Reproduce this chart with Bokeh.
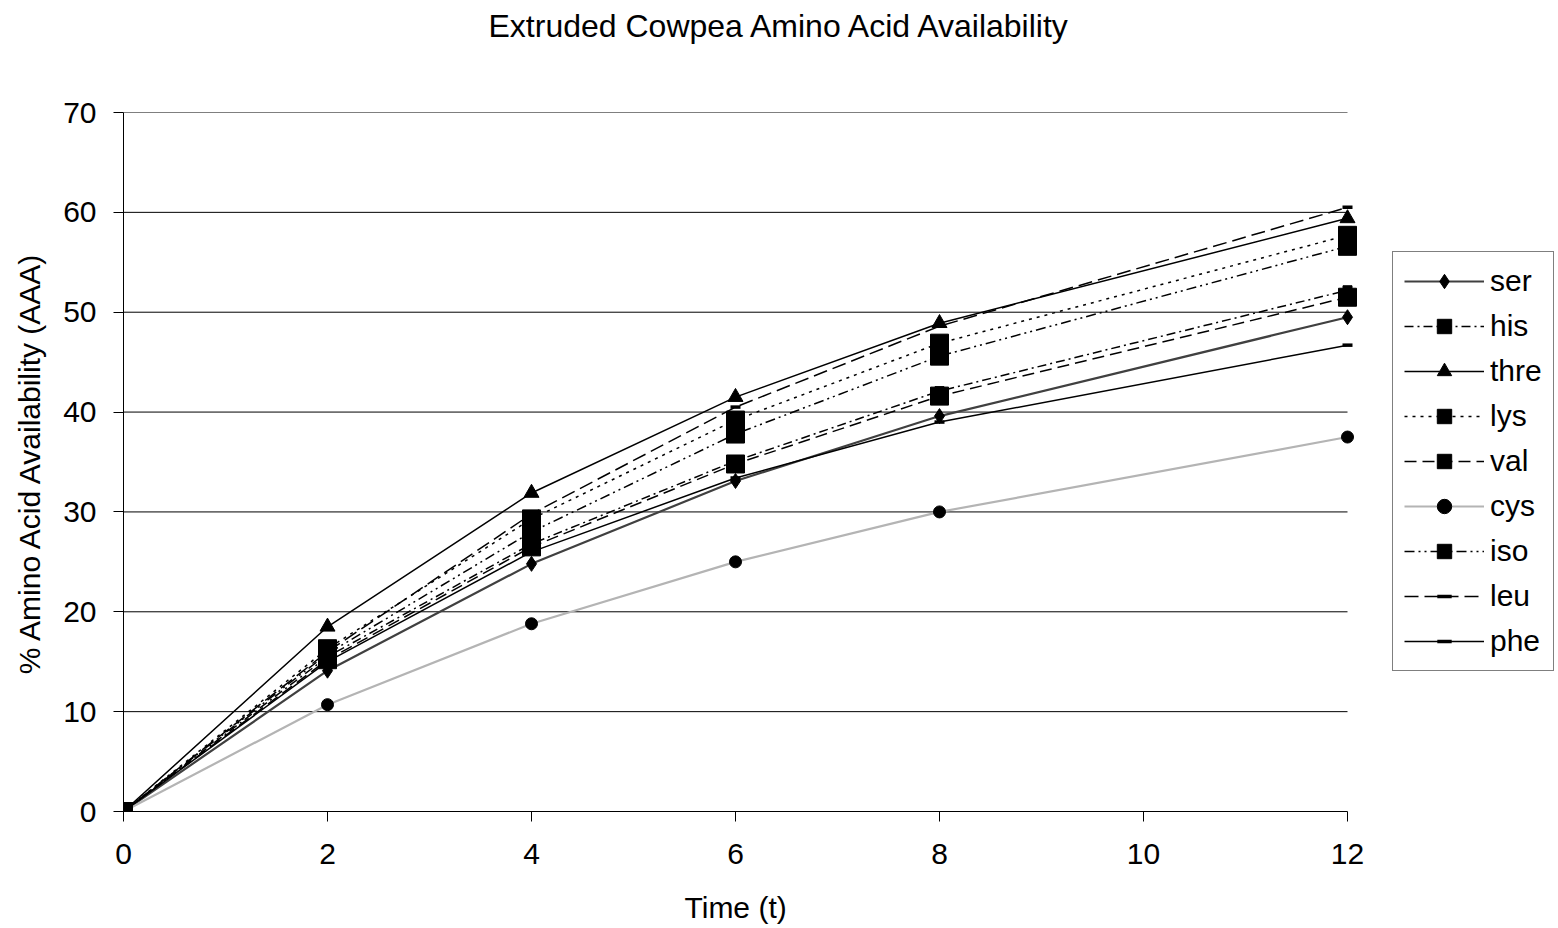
from bokeh.plotting import figure
from bokeh.models import Legend, LegendItem, FixedTicker, Range1d, Title
from bokeh.embed import file_html
from bokeh.resources import INLINE

time = [0, 2, 4, 6, 8, 12]
ser = [0, 14.1, 24.8, 33.1, 39.6, 49.5]
his = [0, 15.5, 26.8, 35.1, 42.1, 52.2]
thre = [0, 18.5, 31.9, 41.5, 48.9, 59.4]
lys = [0, 16.3, 29.3, 39.2, 46.9, 57.7]
val = [0, 15.2, 26.5, 34.8, 41.6, 51.5]
cys = [0, 10.7, 18.8, 25.0, 30.0, 37.5]
iso = [0, 15.8, 28.0, 37.8, 45.6, 56.6]
leu = [0, 16.0, 29.8, 40.5, 48.6, 60.5]
phe = [0, 15.0, 26.0, 33.4, 39.0, 46.7]
x_ticks = [0, 2, 4, 6, 8, 10, 12]
y_ticks = [0, 10, 20, 30, 40, 50, 60, 70]

FONT = "Liberation Sans"
FS = "30px"

# plot area spans 123..1347 px for 0..12; the frame continues to the right edge to host the legend
x_end = x_ticks[-1] * (1558 - 123) / (1347 - 123)

p = figure(width=1558, height=928, output_backend="svg", toolbar_location=None,
           x_range=Range1d(0, x_end), y_range=Range1d(0, 70), title=None,
           min_border_left=123, min_border_right=0, min_border_top=112, min_border_bottom=116)
p.outline_line_color = None
p.background_fill_color = "white"
p.border_fill_color = "white"

# spacer between frame and title, then the title itself
p.add_layout(Title(text=" ", text_font_size="1px", standoff=60), "above")
p.add_layout(Title(text="Extruded Cowpea Amino Acid Availability", align="left", offset=365,
                   vertical_align="middle", standoff=10, text_font=FONT, text_font_size="32px",
                   text_font_style="normal", text_color="black"), "above")

p.xgrid.grid_line_color = None
p.ygrid.grid_line_color = None
p.xaxis.ticker = FixedTicker(ticks=x_ticks)
p.yaxis.ticker = FixedTicker(ticks=y_ticks)
p.xaxis.bounds = (x_ticks[0], x_ticks[-1])
for ax in (p.xaxis, p.yaxis):
    ax.axis_line_color = "black"
    ax.major_tick_line_color = "black"
    ax.major_tick_out = 10
    ax.major_tick_in = 0
    ax.minor_tick_line_color = None
    ax.major_label_text_font = FONT
    ax.major_label_text_font_size = FS
    ax.major_label_text_color = "black"
    ax.axis_label_text_font = FONT
    ax.axis_label_text_font_size = FS
    ax.axis_label_text_font_style = "normal"
    ax.axis_label_text_color = "black"
p.yaxis.axis_label = "% Amino Acid Availability (AAA)"
p.xaxis.major_label_standoff = 22
p.yaxis.major_label_standoff = 17
p.yaxis.axis_label_standoff = 14

# x-axis label centred under the 0..12 plot area (spacer first, then the label)
p.add_layout(Title(text=" ", text_font_size="1px", standoff=16), "below")
p.add_layout(Title(text="Time (t)", align="left", offset=561, vertical_align="middle", standoff=8,
                   text_font=FONT, text_font_size=FS, text_font_style="normal",
                   text_color="black"), "below")

# horizontal gridlines, limited to the 0..12 plot area
grid_y = y_ticks[1:]
p.segment(x0=[x_ticks[0]] * len(grid_y), x1=[x_ticks[-1]] * len(grid_y),
          y0=grid_y, y1=grid_y, line_color="black", line_width=1)

series = [
    ("ser", ser, dict(line_color="#404040", line_width=2.2, line_dash="solid"), dict(marker="diamond", size=15)),
    ("his", his, dict(line_color="black", line_width=1.5, line_dash="9 4 2 4"), dict(marker="square", size=9)),
    ("thre", thre, dict(line_color="black", line_width=1.5, line_dash="solid"), dict(marker="triangle", size=15)),
    ("lys", lys, dict(line_color="black", line_width=1.5, line_dash="3 5"), dict(marker="square", size=18)),
    ("val", val, dict(line_color="black", line_width=1.5, line_dash="12 6"), dict(marker="square", size=18)),
    ("cys", cys, dict(line_color="#b4b4b4", line_width=2.2, line_dash="solid"), dict(marker="circle", size=12)),
    ("iso", iso, dict(line_color="black", line_width=1.5, line_dash="10 4 2 4 2 4"), dict(marker="square", size=18)),
    ("leu", leu, dict(line_color="black", line_width=1.5, line_dash="14 6"), dict(marker="dash", size=10)),
    ("phe", phe, dict(line_color="black", line_width=1.5, line_dash="solid"), dict(marker="dash", size=10)),
]

items = []
for name, ys, lkw, mkw in series:
    r1 = p.line(time, ys, **lkw)
    if mkw["marker"] == "dash":
        r2 = p.scatter(time, ys, marker="dash", size=mkw["size"], line_color="black", line_width=3.5)
    else:
        r2 = p.scatter(time, ys, marker=mkw["marker"], size=mkw["size"],
                       fill_color="black", line_color="black")
    items.append(LegendItem(label=name, renderers=[r1, r2]))

legend = Legend(items=items, location=(1269, 140))
legend.border_line_color = "black"
legend.border_line_width = 1
legend.background_fill_color = "white"
legend.background_fill_alpha = 1
legend.label_text_font = FONT
legend.label_text_font_size = FS
legend.label_text_color = "black"
legend.glyph_width = 80
legend.glyph_height = 36
legend.spacing = 9
legend.padding = 11
legend.label_standoff = 6
legend.margin = 0
p.add_layout(legend, "center")

open("out.html", "w").write(file_html(p, INLINE))
